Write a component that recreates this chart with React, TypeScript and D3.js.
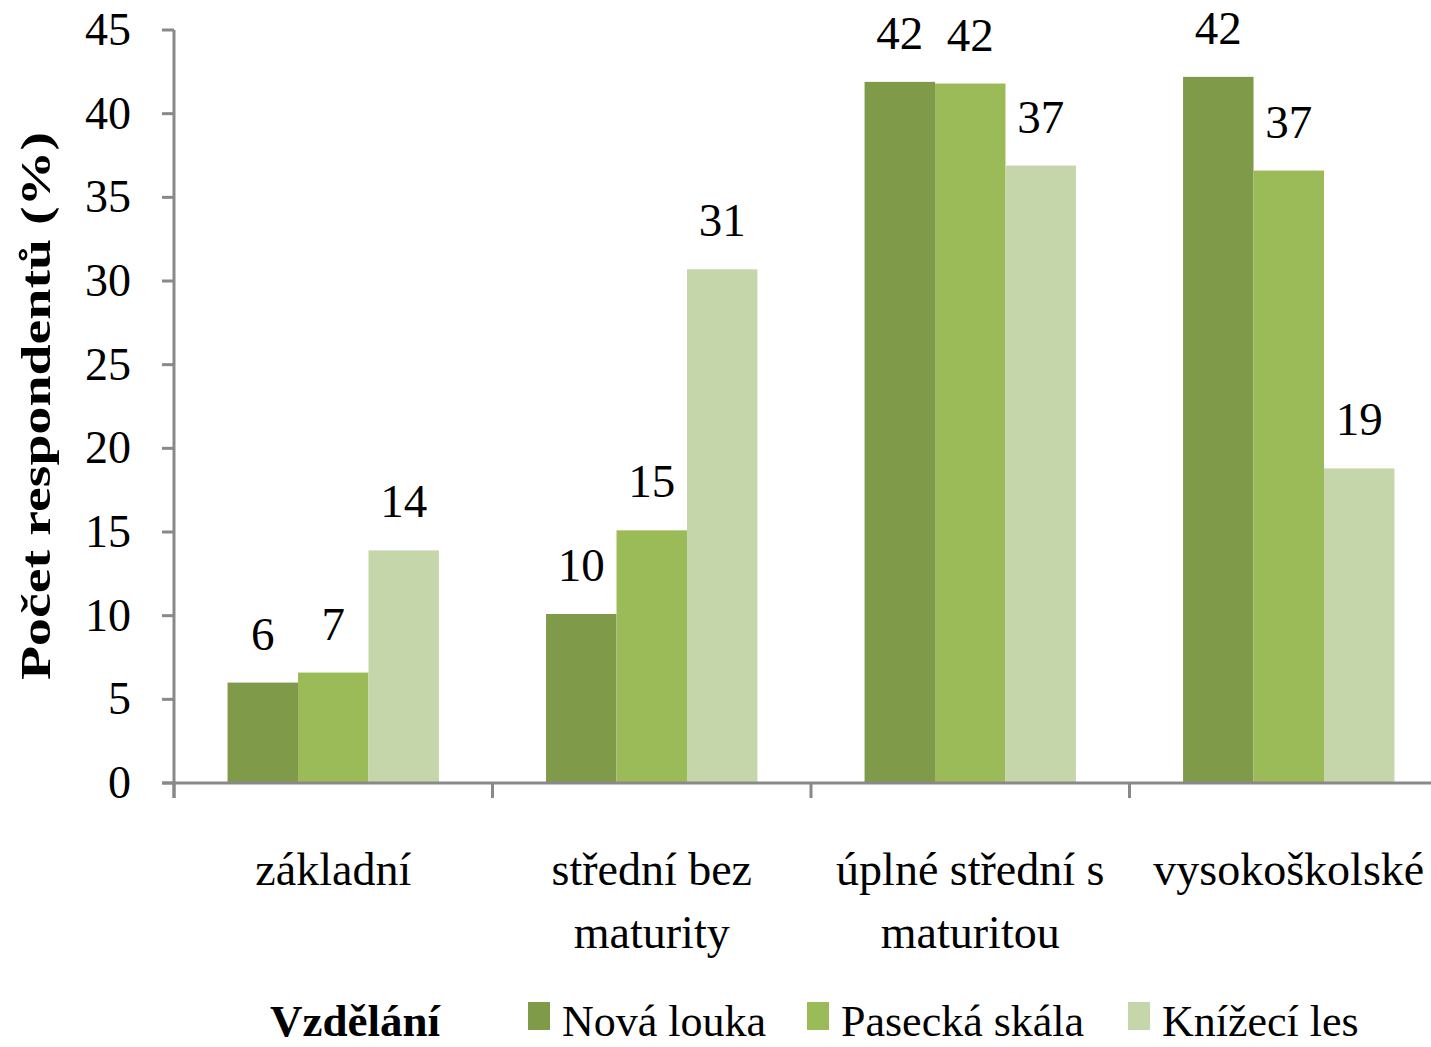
import React from "react";
import * as d3 from "d3";

const categories = ["základní", "střední bez maturity", "úplné střední s maturitou", "vysokoškolské"];
const categoryLines = [["základní"], ["střední bez", "maturity"], ["úplné střední s", "maturitou"], ["vysokoškolské"]];
const seriesNames = ["Nová louka", "Pasecká skála", "Knížecí les"];
const novaLouka = [6.0, 10.1, 41.9, 42.2];
const paseckaSkala = [6.6, 15.1, 41.8, 36.6];
const kniseciLes = [13.9, 30.7, 36.9, 18.8];
const barLabels = [
  ["6", "10", "42", "42"],
  ["7", "15", "42", "37"],
  ["14", "31", "37", "19"],
];
const yTicks = [0, 5, 10, 15, 20, 25, 30, 35, 40, 45];
const colors = ["#7f9a48", "#9bbb59", "#c6d6ab"];

const W = 1431;
const H = 1047;
const FONT = "'Liberation Serif', 'Times New Roman', serif";

export default function App() {
  const series = [novaLouka, paseckaSkala, kniseciLes];
  const y = d3.scaleLinear().domain([0, 45]).range([783, 30]);
  const x = d3.scaleBand().domain(categories).range([174, 1448]).paddingInner(0).paddingOuter(0);
  const xi = d3
    .scaleBand()
    .domain(seriesNames)
    .range([0, x.bandwidth()])
    .paddingInner(0)
    .paddingOuter(0.76);
  const axisColor = "#898989";
  const T = (props: any) => {
    const { x: tx, y: ty, children, anchor = "middle", size = 46, weight = "normal", sx = 1 } = props;
    return (
      <text
        transform={`translate(${tx},${ty}) scale(${sx},1)`}
        textAnchor={anchor}
        fontFamily={FONT}
        fontSize={size}
        fontWeight={weight}
        fill="#000"
      >
        {children}
      </text>
    );
  };
  return (
    <svg
      width={W}
      height={H}
      style={{ position: "absolute", left: 0, top: 0, background: "#fff" }}
    >
      {/* bars */}
      {series.map((vals, si) =>
        vals.map((v, ci) => {
          const bx = (x(categories[ci]) as number) + (xi(seriesNames[si]) as number);
          return (
            <rect
              key={`b${si}-${ci}`}
              x={bx}
              y={y(v)}
              width={xi.bandwidth()}
              height={y(0) - y(v)}
              fill={colors[si]}
            />
          );
        })
      )}
      {/* bar labels */}
      {series.map((vals, si) =>
        vals.map((v, ci) => {
          const bx = (x(categories[ci]) as number) + (xi(seriesNames[si]) as number) + xi.bandwidth() / 2;
          return (
            <T key={`l${si}-${ci}`} x={bx} y={y(v) - 33} size={47}>
              {barLabels[si][ci]}
            </T>
          );
        })
      )}
      {/* y axis */}
      <line x1={174} x2={174} y1={y(45)} y2={y(0) + 15} stroke={axisColor} strokeWidth={3} />
      {yTicks.map((t) => (
        <g key={`yt${t}`}>
          <line x1={162} x2={174} y1={y(t)} y2={y(t)} stroke={axisColor} strokeWidth={3} />
          <T x={131} y={y(t) + 15} anchor="end" size={46}>
            {t}
          </T>
        </g>
      ))}
      {/* x axis */}
      <line x1={162} x2={W} y1={y(0)} y2={y(0)} stroke={axisColor} strokeWidth={3} />
      {categories.map((c) => (
        <line
          key={`xt${c}`}
          x1={x(c) as number}
          x2={x(c) as number}
          y1={y(0)}
          y2={y(0) + 15}
          stroke={axisColor}
          strokeWidth={3}
        />
      ))}
      {categories.map((c, ci) =>
        categoryLines[ci].map((line, li) => (
          <T key={`cl${ci}-${li}`} x={(x(c) as number) + x.bandwidth() / 2} y={885 + li * 63} size={46}>
            {line}
          </T>
        ))
      )}
      {/* y title */}
      <text
        transform={`translate(50,406) rotate(-90) scale(1.33,1)`}
        textAnchor="middle"
        fontFamily={FONT}
        fontSize={42}
        fontWeight="bold"
        fill="#000"
      >
        Počet respondentů (%)
      </text>
      {/* legend */}
      <T x={270} y={1036} anchor="start" weight="bold" size={45}>
        Vzdělání
      </T>
      {seriesNames.map((s, si) => {
        const lx = [528, 807, 1128][si];
        return (
          <g key={`lg${si}`}>
            <rect x={lx} y={1002} width={22} height={28} fill={colors[si]} />
            <T x={lx + 34} y={1036} anchor="start" size={44}>
              {s}
            </T>
          </g>
        );
      })}
    </svg>
  );
}
